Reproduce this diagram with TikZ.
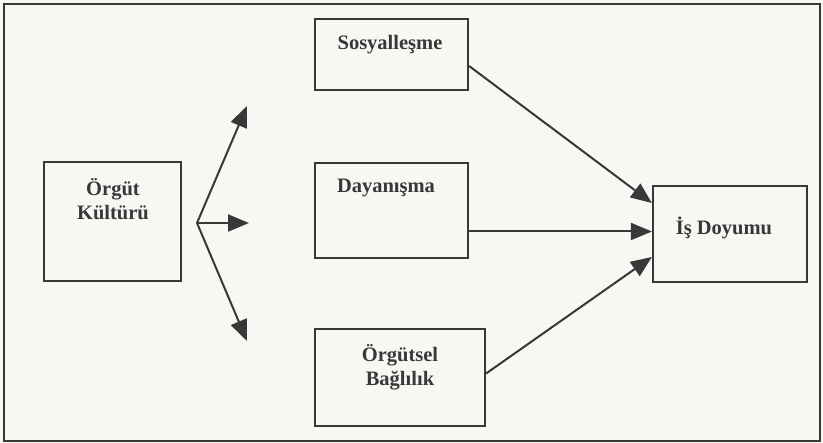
\documentclass[tikz,border=0pt]{standalone}
\usepackage{fontspec}
\setmainfont{Liberation Serif}
\usetikzlibrary{arrows.meta}
\definecolor{ink}{HTML}{383838}
\definecolor{paper}{HTML}{F7F7F4}
\tikzset{%
    frame/.style={%
        draw=ink, line width=2.2pt
    },
    box/.style={%
        rectangle, draw=ink, line width=2.2pt, inner sep=0pt
    },
    txt/.style={%
        text=ink, font=\fontsize{20.5}{24.5}\selectfont\bfseries, align=center, inner sep=0pt
    },
    arr/.style={%
        draw=ink, line width=2pt, -{Triangle[length=21pt,width=17pt]}
    },
}

\begin{document}
\begin{tikzpicture}[x=1pt,y=-1pt]
    \useasboundingbox (0,0) rectangle (823,443);
    \fill[paper] (0,0) rectangle (823,443);
    \draw[frame] (4,4) rectangle (820,441);

    \node[box, minimum width=137pt, minimum height=119pt] (kultur) at (112.5,221.5) {};
    \node[txt] (kulturtxt) at (113,199) {Örgüt\\Kültürü};
    \node[box, minimum width=153pt, minimum height=71pt] (sos) at (391.5,54.5) {};
    \node[txt] (sostxt) at (390,45) {Sosyalleşme};
    \node[box, minimum width=153pt, minimum height=95pt] (day) at (391.5,210.5) {};
    \node[txt] (daytxt) at (386,188) {Dayanışma};
    \node[box, minimum width=170pt, minimum height=97pt] (bag) at (400,377.5) {};
    \node[txt] (bagtxt) at (400,367) {Örgütsel\\Bağlılık};
    \node[box, minimum width=154pt, minimum height=96pt] (isd) at (730,234) {};
    \node[txt] (isdtxt) at (724,228) {İş Doyumu};

    % fan out of the culture box
    \coordinate (fan) at (197,223);
    \coordinate (up) at (247,106);
    \coordinate (mid) at (249,223);
    \coordinate (down) at (247,341);
    \draw[arr] (fan) -- (up);
    \draw[arr] (fan) -- (mid);
    \draw[arr] (fan) -- (down);

    % into job satisfaction
    \draw[arr] ([yshift=-11.5pt]sos.east) -- ([yshift=31pt]isd.west);
    \draw[arr] ([yshift=-21pt]day.east) -- ([yshift=-21pt]day.east -| isd.west);
    \draw[arr] ([yshift=4pt]bag.east) -- ([yshift=-23pt]isd.west);
\end{tikzpicture}
\end{document}
